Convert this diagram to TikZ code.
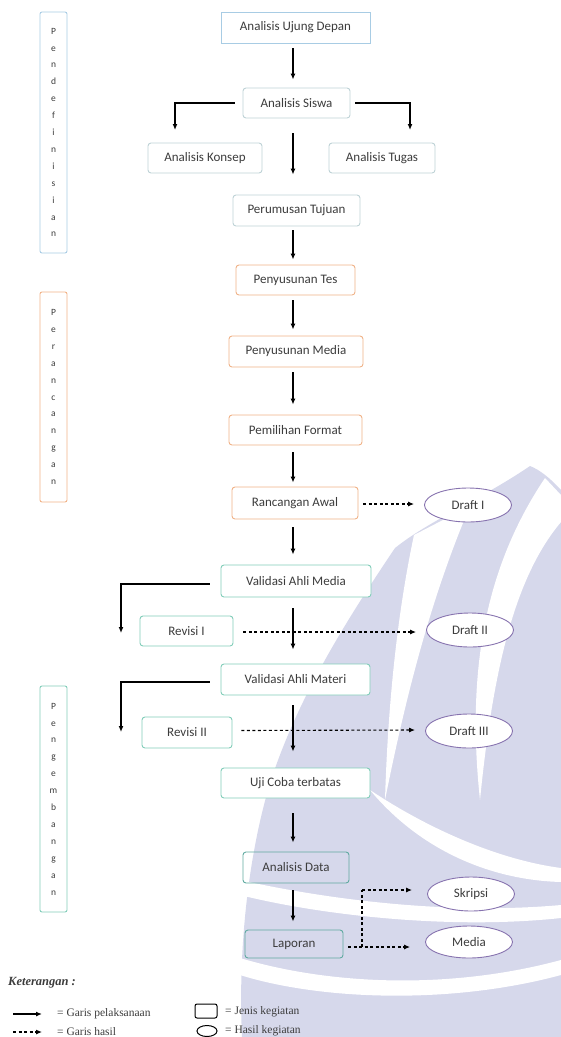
\documentclass[tikz,border=0pt]{standalone}
\usepackage{fontspec}
\setmainfont{Carlito}
\newfontfamily\legfont{Liberation Serif}
\usetikzlibrary{arrows.meta,shapes.geometric}
\definecolor{txt}{RGB}{60,60,60}
\definecolor{wm}{RGB}{214,216,235}
\definecolor{cblue}{RGB}{168,204,228}
\definecolor{cgray}{RGB}{190,210,214}
\definecolor{corange}{RGB}{240,178,135}
\definecolor{cgreen}{RGB}{130,205,185}
\definecolor{cteal}{RGB}{95,170,160}
\definecolor{purp}{RGB}{135,115,175}
\tikzset{
  box/.style={draw, rounded corners=3pt, line width=0.9pt, minimum height=30pt,
    inner sep=0pt, font=\fontsize{13}{15}\selectfont, text=txt, fill=white},
  res/.style={ellipse, draw=purp, line width=0.9pt, fill=white, inner sep=0pt,
    minimum width=87pt, minimum height=34pt, font=\fontsize{13}{15}\selectfont, text=txt},
  side/.style={draw, rounded corners=2pt, line width=0.9pt, minimum width=27pt,
    inner sep=0pt, align=center, font=\fontsize{9.5}{16.9}\selectfont, text=txt},
  arr/.style={-{Latex[length=6pt,width=5pt]}, line width=1.2pt, black},
  darr/.style={-{Latex[length=6pt,width=5pt]}, line width=1.1pt, black, dash pattern=on 3pt off 2.5pt},
  leg/.style={font=\legfont\fontsize{11.5}{13}\selectfont, text=txt, anchor=west, inner sep=0pt}
}
\begin{document}
\begin{tikzpicture}[x=1pt,y=-1pt]
\useasboundingbox (0,0) rectangle (561,1037);
% watermark
\fill[wm] (395,548) .. controls (350,615) and (295,700) .. (268,790)
  .. controls (248,860) and (238,950) .. (242,1037) -- (561,1037) -- (561,490)
  .. controls (550,478) and (540,470) .. (530,466)
  .. controls (480,500) and (430,520) .. (395,548) -- cycle;
\fill[white] (414,535) .. controls (398,610) and (388,700) .. (385,800)
  .. controls (405,700) and (430,600) .. (470,506) -- cycle;
\fill[white] (545,478) .. controls (490,560) and (465,660) .. (480,800)
  .. controls (492,680) and (512,580) .. (561,522) -- (561,495) -- cycle;
\fill[white] (370,790) .. controls (430,830) and (500,860) .. (561,868) -- (561,882)
  .. controls (490,880) and (420,850) .. (370,790) -- cycle;
\fill[white] (240,880) .. controls (330,900) and (450,915) .. (561,905) -- (561,918)
  .. controls (450,930) and (320,915) .. (240,895) -- cycle;
\fill[white] (240,958) .. controls (330,985) and (450,990) .. (561,960) -- (561,975)
  .. controls (450,1005) and (320,1000) .. (240,975) -- cycle;

\coordinate (colx) at (293,0);
% side labels
\node[side, draw=cblue, minimum height=241pt] (pend) at (53.5,132.5) {P\\e\\n\\d\\e\\f\\i\\n\\i\\s\\i\\a\\n};
\node[side, draw=corange, minimum height=210pt] (peran) at (53.5,397) {P\\e\\r\\a\\n\\c\\a\\n\\g\\a\\n};
\node[side, draw=cgreen, minimum height=226pt] (peng) at (53.5,799) {P\\e\\n\\g\\e\\m\\b\\a\\n\\g\\a\\n};

% boxes
\node[box, draw=cblue, rounded corners=0pt, minimum width=149pt, minimum height=31pt] (aud) at (295.5,27.5) {Analisis Ujung Depan};
\node[box, draw=cgray, minimum width=107pt] (as) at (296.5,103) {Analisis Siswa};
\node[box, draw=cgray, minimum width=114pt] (ak) at (205,158) {Analisis Konsep};
\node[box, draw=cgray, minimum width=106pt] (at) at (382,158) {Analisis Tugas};
\node[box, draw=cgray, minimum width=127pt, minimum height=31pt] (pt) at (296.5,210.5) {Perumusan Tujuan};
\node[box, draw=corange, minimum width=119pt] (pts) at (295.5,280) {Penyusunan Tes};
\node[box, draw=corange, minimum width=134pt, minimum height=31pt] (pm) at (296,351.5) {Penyusunan Media};
\node[box, draw=corange, minimum width=133pt] (pf) at (295.5,430) {Pemilihan Format};
\node[box, draw=corange, minimum width=126pt, minimum height=32pt] (ra) at (295,503) {Rancangan Awal};
\node[box, draw=cgreen, minimum width=150pt, minimum height=32pt] (vam) at (296,581) {Validasi Ahli Media};
\node[box, draw=cgreen, minimum width=93pt] (r1) at (186.5,631) {Revisi I};
\node[box, draw=cgreen, minimum width=149pt, minimum height=31pt] (vmat) at (295.5,679.5) {Validasi Ahli Materi};
\node[box, draw=cgreen, minimum width=90pt, minimum height=31pt] (r2) at (187,732.5) {Revisi II};
\node[box, draw=cgreen, minimum width=149pt] (uji) at (295.5,783) {Uji Coba terbatas};
\node[box, draw=cteal, fill=none, minimum width=106pt, minimum height=31pt] (ad) at (296,867.5) {Analisis Data};
\node[box, draw=cteal, fill=none, minimum width=98pt, minimum height=28pt] (lap) at (294,944) {Laporan};

% results
\node[res] (d1) at (468,505) {Draft I};
\node[res] (d2) at (470,630) {Draft II};
\node[res] (d3) at (469,731) {Draft III};
\node[res] (sk) at (471,894) {Skripsi};
\node[res, minimum height=32pt] (med) at (469,942) {Media};

% main arrows
\draw[arr] ([yshift=-5pt]aud.south -| colx) -- ([yshift=8pt]as.north -| colx);
\draw[arr] ([yshift=-15pt]as.south -| colx) -- ([yshift=20pt]pt.north -| colx);
\draw[arr] ([yshift=-4pt]pt.south -| colx) -- ([yshift=5pt]pts.north -| colx);
\draw[arr] ([yshift=-5pt]pts.south -| colx) -- ([yshift=6pt]pm.north -| colx);
\draw[arr] ([yshift=-5pt]pm.south -| colx) -- ([yshift=10pt]pf.north -| colx);
\draw[arr] ([yshift=-7pt]pf.south -| colx) -- ([yshift=4pt]ra.north -| colx);
\draw[arr] ([yshift=-8pt]ra.south -| colx) -- ([yshift=10pt]vam.north -| colx);
\draw[arr] ([yshift=-11pt]vam.south -| colx) -- ([yshift=14pt]vmat.north -| colx);
\draw[arr] ([yshift=-10pt]vmat.south -| colx) -- ([yshift=16pt]uji.north -| colx);
\draw[arr] ([yshift=-15pt]uji.south -| colx) -- ([yshift=9pt]ad.north -| colx);
\draw[arr] ([yshift=-7pt]ad.south -| colx) -- ([yshift=8pt]lap.north -| colx);

% branches
\coordinate (bl) at (175,130);
\coordinate (br) at (410,130);
\draw[arr] ([xshift=-8pt]as.west) -| (bl);
\draw[arr] ([xshift=5pt]as.east) -| (br);
\coordinate (v1) at (121,633);
\coordinate (v2) at (121,732);
\draw[arr] ([xshift=-11pt,yshift=-3pt]vam.west) -| (v1);
\draw[arr] ([xshift=-11pt,yshift=-2.5pt]vmat.west) -| (v2);

% result arrows
\draw[darr] ([xshift=5pt,yshift=-1pt]ra.east) -- ([xshift=-10pt]d1.west |- 0,504);
\draw[darr] ([xshift=10pt,yshift=-1pt]r1.east) -- ([xshift=-10pt]d2.west |- 0,632);
\draw[darr] ([xshift=9pt,yshift=2pt]r2.east) -- ([xshift=-10pt]d3.west |- 0,730);
\coordinate (jn) at (362,947);
\coordinate (jt) at (362,890);
\draw[darr] ([xshift=5pt,yshift=-3pt]lap.east) -- ([xshift=-15pt]med.west |- 0,947);
\draw[dash pattern=on 3pt off 2.5pt, line width=1.1pt] (jn) -- (jt);
\draw[darr] (jt) -- ([xshift=-15pt]sk.west |- 0,890);

% legend
\node[leg, font=\legfont\bfseries\itshape\fontsize{12.5}{14}\selectfont] (ket) at (8,983) {Keterangan :};
\coordinate (la1) at (13,1014);
\coordinate (la2) at (42,1014);
\coordinate (lb1) at (13,1032);
\coordinate (lb2) at (42,1032);
\draw[arr] (la1) -- (la2);
\draw[darr] (lb1) -- (lb2);
\node[leg] (l1) at (57,1014) {= Garis pelaksanaan};
\node[leg] (l2) at (57,1032) {= Garis hasil};
\node[draw=black, line width=1pt, rounded corners=2pt, minimum width=22pt, minimum height=14pt, inner sep=0pt] (ic1) at (206,1011) {};
\node[draw=black, line width=1pt, ellipse, minimum width=20pt, minimum height=11pt, inner sep=0pt] (ic2) at (207,1031) {};
\node[leg] (l3) at (225,1012) {= Jenis kegiatan};
\node[leg] (l4) at (225,1031) {= Hasil kegiatan};
\end{tikzpicture}
\end{document}
